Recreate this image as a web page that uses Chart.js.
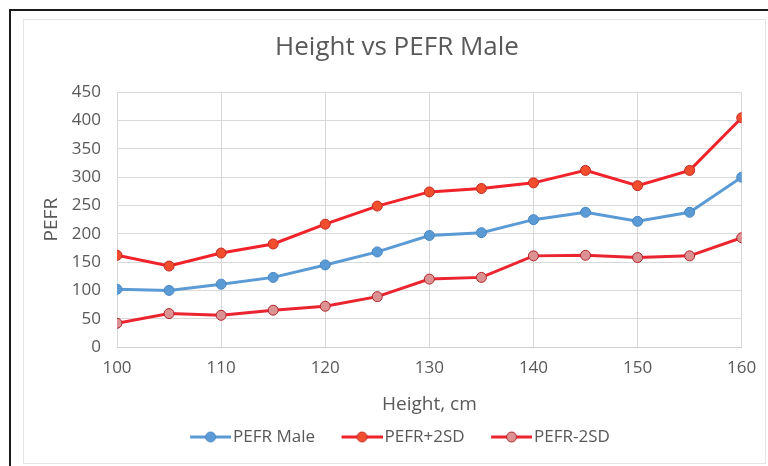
<!DOCTYPE html>
<html>
<head>
<meta charset="utf-8">
<script src="https://cdn.jsdelivr.net/npm/chart.js@4.4.1/dist/chart.umd.min.js"></script>
<style>
  html, body { margin: 0; padding: 0; background: #fff; overflow: hidden; }
  #wrap { position: relative; width: 768px; height: 466px; }
</style>
</head>
<body>
<div id="wrap"><canvas id="chart"></canvas></div>
<script>
const heights = [100, 105, 110, 115, 120, 125, 130, 135, 140, 145, 150, 155, 160];
const pefrMale = [102, 100, 111, 123, 145, 168, 197, 202, 225, 238, 222, 238, 300];
const pefrPlus2SD = [162, 143, 166, 182, 217, 249, 274, 280, 290, 312, 285, 312, 405];
const pefrMinus2SD = [42, 59, 56, 65, 72, 89, 120, 123, 161, 162, 158, 161, 193];
const xTicks = [100, 110, 120, 130, 140, 150, 160];
const yTicks = [0, 50, 100, 150, 200, 250, 300, 350, 400, 450];

const TEXT = "#595959";
const FONT = "'Open Sans', sans-serif";

// legend sample: line with a marker in the middle, drawn to a small canvas
function legendIcon(line, fill, border) {
  const c = document.createElement("canvas");
  c.width = 69; c.height = 14;
  const g = c.getContext("2d");
  g.strokeStyle = line; g.lineWidth = 3;
  g.beginPath(); g.moveTo(28, 7); g.lineTo(69, 7); g.stroke();
  g.beginPath(); g.arc(48.5, 7, 5, 0, Math.PI * 2);
  g.fillStyle = fill; g.fill();
  g.lineWidth = 1; g.strokeStyle = border; g.stroke();
  return c;
}

const series = [
  { label: "PEFR Male", values: pefrMale, line: "#5b9bd5", fill: "#5b9bd5", border: "#4a88c4" },
  { label: "PEFR+2SD", values: pefrPlus2SD, line: "#f0232b", fill: "#f24e2e", border: "#c42a24" },
  { label: "PEFR-2SD", values: pefrMinus2SD, line: "#ea2530", fill: "#dc9292", border: "#b3242a" },
];

const framePlugin = {
  id: "frame",
  beforeDraw(chart) {
    const c = chart.ctx;
    c.save();
    c.fillStyle = "#fff";
    c.fillRect(0, 0, chart.width, chart.height);
    c.strokeStyle = "#e4e4e4"; c.lineWidth = 1;
    c.strokeRect(23.5, 19.5, 742, 444);
    c.strokeStyle = "#1a1a1a"; c.lineWidth = 2;
    c.beginPath(); c.moveTo(10, 466); c.lineTo(10, 10); c.lineTo(768, 10); c.stroke();
    c.restore();
  },
  afterLayout(chart) {
    // Excel centres title and legend on the whole chart, not the plot
    const t = chart.titleBlock;
    if (t) { t.left = 26; t.right = 768; t.width = 742; }
    const l = chart.legend;
    if (l) { l.left = 0; l.right = 778.5; l.width = 778.5; }
  },
};

new Chart(document.getElementById("chart"), {
  type: "line",
  data: {
    datasets: series.map((s) => ({
      label: s.label,
      data: heights.map((h, i) => ({ x: h, y: s.values[i] })),
      borderColor: s.line,
      backgroundColor: s.fill,
      pointBackgroundColor: s.fill,
      pointBorderColor: s.border,
      pointBorderWidth: 1,
      pointRadius: 5,
      borderWidth: 3,
      tension: 0,
      icon: legendIcon(s.line, s.fill, s.border),
    })),
  },
  options: {
    responsive: true, maintainAspectRatio: false, animation: false,
    layout: { padding: { left: 20, right: 26.3, top: 10, bottom: 10.5 } },
    scales: {
      x: {
        type: "linear", min: 100, max: 160,
        afterBuildTicks: (ax) => { ax.ticks = xTicks.map((v) => ({ value: v })); },
        ticks: { color: TEXT, font: { family: FONT, size: 17 }, padding: 11 },
        grid: { color: "#d9d9d9", drawTicks: false },
        border: { color: "#d0d0d0" },
        title: { display: true, text: "Height, cm", color: TEXT, font: { family: FONT, size: 19 }, padding: { top: 4.2, bottom: 7.1 } },
      },
      y: {
        min: 0, max: 450,
        afterBuildTicks: (ax) => { ax.ticks = yTicks.map((v) => ({ value: v })); },
        afterFit: (ax) => { ax.width = 97; },
        ticks: { color: TEXT, font: { family: FONT, size: 17 }, padding: 16 },
        grid: { color: "#d9d9d9", drawTicks: false },
        border: { display: false },
        title: { display: true, text: "PEFR", color: TEXT, font: { family: FONT, size: 19 }, padding: { top: 20.6, bottom: 0 } },
      },
    },
    plugins: {
      title: {
        display: true, text: "Height vs PEFR Male", color: TEXT,
        font: { family: FONT, size: 26, weight: "normal" },
        padding: { top: 22.4, bottom: 28.7 },
      },
      legend: {
        position: "bottom",
        labels: {
          color: TEXT, font: { family: FONT, size: 17 },
          usePointStyle: true, pointStyleWidth: 56, padding: 5,
          generateLabels: (chart) => chart.data.datasets.map((ds, i) => ({
            text: ds.label, pointStyle: ds.icon, fontColor: TEXT,
            strokeStyle: ds.borderColor, fillStyle: ds.backgroundColor,
            lineWidth: 0, hidden: !chart.isDatasetVisible(i), datasetIndex: i,
          })),
        },
      },
      tooltip: { enabled: false },
    },
  },
  plugins: [framePlugin],
});
</script>
</body>
</html>
